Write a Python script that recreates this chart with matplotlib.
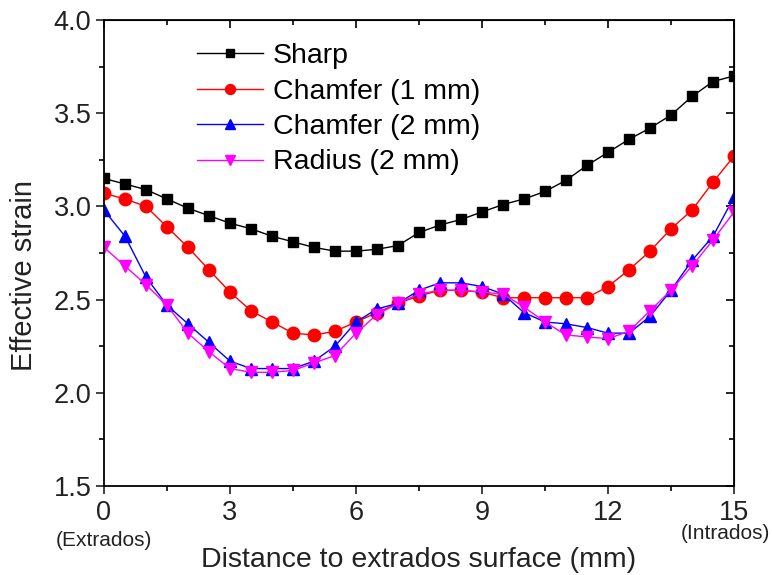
import matplotlib
matplotlib.use('Agg')
import matplotlib.pyplot as plt
from matplotlib.ticker import MultipleLocator

plt.rcParams['font.family'] = ['Liberation Sans', 'DejaVu Sans']

# distance to extrados surface (mm), every 0.5 mm
distance = [i * 0.5 for i in range(31)]

sharp = [3.15, 3.12, 3.09, 3.04, 2.99, 2.95, 2.91, 2.88, 2.84, 2.81, 2.78,
         2.76, 2.76, 2.77, 2.79, 2.86, 2.90, 2.93, 2.97, 3.01, 3.04,
         3.08, 3.14, 3.22, 3.29, 3.36, 3.42, 3.49, 3.59, 3.67, 3.70]
chamfer1 = [3.07, 3.04, 3.00, 2.89, 2.78, 2.66, 2.54, 2.44, 2.38, 2.32, 2.31,
            2.33, 2.38, 2.43, 2.48, 2.52, 2.55, 2.55, 2.54, 2.51, 2.51,
            2.51, 2.51, 2.51, 2.57, 2.66, 2.76, 2.88, 2.98, 3.13, 3.27]
chamfer2 = [2.98, 2.84, 2.62, 2.47, 2.37, 2.27, 2.17, 2.13, 2.13, 2.13, 2.17,
            2.25, 2.38, 2.45, 2.48, 2.55, 2.59, 2.59, 2.57, 2.53, 2.43,
            2.38, 2.37, 2.35, 2.32, 2.32, 2.41, 2.55, 2.71, 2.84, 3.05]
radius2 = [2.78, 2.68, 2.58, 2.47, 2.32, 2.22, 2.13, 2.11, 2.11, 2.12, 2.16,
           2.20, 2.32, 2.42, 2.48, 2.53, 2.55, 2.55, 2.54, 2.53, 2.46,
           2.38, 2.31, 2.30, 2.29, 2.33, 2.44, 2.55, 2.68, 2.82, 2.97]

labels = ['Sharp', 'Chamfer (1 mm)', 'Chamfer (2 mm)', 'Radius (2 mm)']

fig = plt.figure(figsize=(7.72, 5.75), dpi=100)
ax = fig.add_axes([0.1347, 0.1548, 0.8161, 0.8104])

ax.plot(distance, sharp, '-s', color='black', lw=1, ms=6.5, label=labels[0])
ax.plot(distance, chamfer1, '-o', color='red', lw=1, ms=9, label=labels[1])
ax.plot(distance, chamfer2, '-^', color='blue', lw=1, ms=8.5, label=labels[2])
ax.plot(distance, radius2, '-v', color='magenta', lw=1, ms=8.5, label=labels[3])

ax.set_xlim(0, 15)
ax.set_ylim(1.5, 4.0)
ax.xaxis.set_major_locator(MultipleLocator(3))
ax.xaxis.set_minor_locator(MultipleLocator(1.5))
ax.yaxis.set_major_locator(MultipleLocator(0.5))
ax.yaxis.set_minor_locator(MultipleLocator(0.25))
ax.yaxis.set_major_formatter(plt.FormatStrFormatter('%.1f'))

ax.tick_params(which='major', direction='out', length=6, width=1.2,
               labelsize=19.5, colors='#222222')
ax.tick_params(which='minor', direction='out', length=3.5, width=1.2)
ax.tick_params(axis='x', pad=4)
ax.tick_params(axis='y', pad=3)
for s in ax.spines.values():
    s.set_linewidth(1.3)

# mirrored ticks on top and right, pointing inwards
top = ax.secondary_xaxis('top')
top.xaxis.set_major_locator(MultipleLocator(3))
top.xaxis.set_minor_locator(MultipleLocator(1.5))
top.tick_params(which='major', direction='in', length=6, width=1.2, labeltop=False)
top.tick_params(which='minor', direction='in', length=3.5, width=1.2)
right = ax.secondary_yaxis('right')
right.yaxis.set_major_locator(MultipleLocator(0.5))
right.yaxis.set_minor_locator(MultipleLocator(0.25))
right.tick_params(which='major', direction='in', length=6, width=1.2, labelright=False)
right.tick_params(which='minor', direction='in', length=3.5, width=1.2)

ax.set_xlabel('Distance to extrados surface (mm)', fontsize=20.5, color='#222222',
              va='center')
ax.xaxis.set_label_coords(0.5, -0.159)
ax.set_ylabel('Effective strain', fontsize=21, color='#222222', va='center')
ax.yaxis.set_label_coords(-0.127, 0.451)

ax.annotate('(Extrados)', xy=(0, 0), xycoords=('data', 'axes fraction'),
            xytext=(0, -39), textcoords='offset points', ha='center',
            va='center', fontsize=15, color='#222222')
ax.annotate('(Intrados)', xy=(15, 0), xycoords=('data', 'axes fraction'),
            xytext=(26, -34), textcoords='offset points', ha='right',
            va='center', fontsize=15, color='#222222', annotation_clip=False)

ax.legend(loc='upper left', bbox_to_anchor=(0.148, 0.95), frameon=False,
          fontsize=20.5, handlelength=2.3, handletextpad=0.35, labelspacing=0.33,
          borderaxespad=0, borderpad=0, markerscale=0.8)

fig.savefig('out.png', dpi=100)
